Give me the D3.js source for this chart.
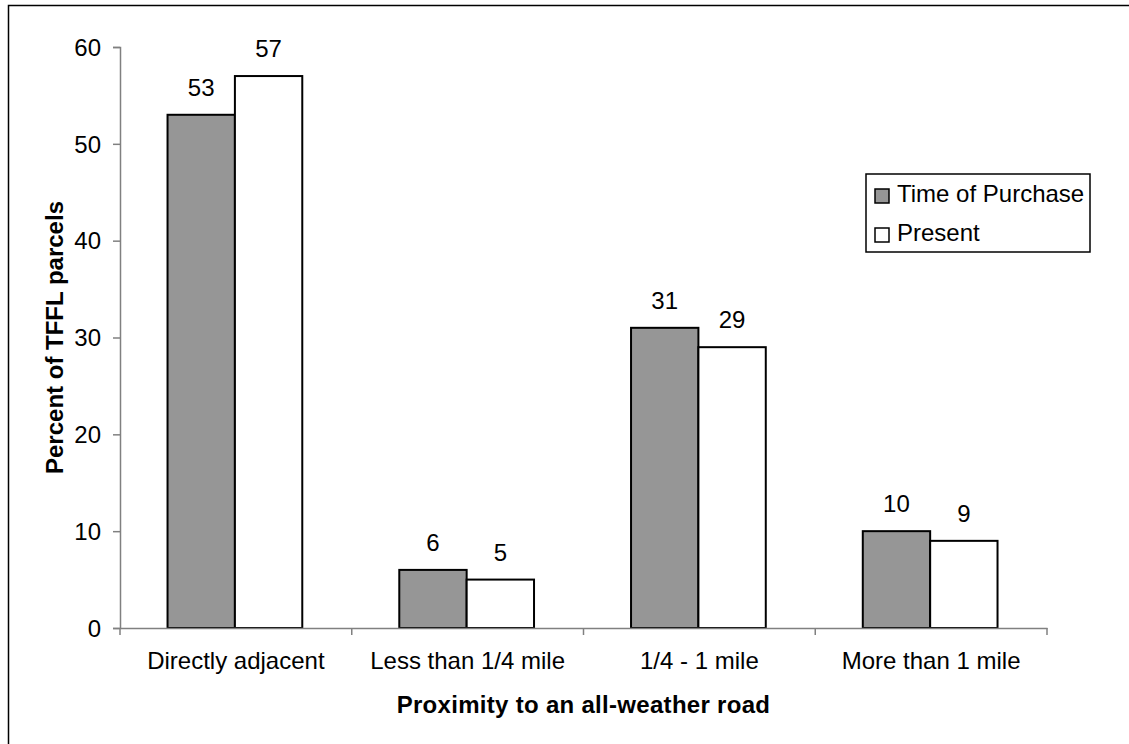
<!DOCTYPE html>
<html>
<head>
<meta charset="utf-8">
<script src="https://cdn.jsdelivr.net/npm/d3@7"></script>
<style>
body { margin: 0; background: #fff; }
text { font-family: "Liberation Sans", Arial, sans-serif; fill: #000; }
</style>
</head>
<body>
<script>
var width = 1129;
var height = 744;
var margin = {top: 47, right: 82, bottom: 116, left: 120};
var w = width - margin.left - margin.right;
var h = height - margin.top - margin.bottom;

// data
var categories = ["Directly adjacent", "Less than 1/4 mile", "1/4 - 1 mile", "More than 1 mile"];
var seriesNames = ["Time of Purchase", "Present"];
var purchase = [53, 6, 31, 10];
var present = [57, 5, 29, 9];
var yTicks = [0, 10, 20, 30, 40, 50, 60];
var colors = ["#969696", "#ffffff"];

var series = [purchase, present];

var svg = d3.select("body").append("svg")
	.attr("width", width)
	.attr("height", height);

// outer frame (only top and left edges fall inside the picture)
svg.append("rect")
	.attr("x", 8.5).attr("y", 5.5)
	.attr("width", 1200).attr("height", 800)
	.style("fill", "none")
	.style("stroke", "#000")
	.style("stroke-width", 1.5);

var chart = svg.append("g")
	.attr("transform", "translate(" + margin.left + "," + margin.top + ")");

var x0 = d3.scaleBand()
	.domain(categories)
	.range([0, w]);

var x1 = d3.scaleBand()
	.domain(seriesNames)
	.range([0, x0.bandwidth()])
	.paddingOuter(0.72)
	.align(0.49);

var y = d3.scaleLinear()
	.domain([0, 60])
	.range([h, 0]);

//bars
var groups = chart.selectAll(".grp")
	.data(categories)
	.enter().append("g")
	.attr("class", "grp")
	.attr("transform", function(d) { return "translate(" + x0(d) + ",0)"; });

groups.selectAll("rect")
	.data(function(d, i) { return seriesNames.map(function(s, j) { return {s: s, v: series[j][i], j: j}; }); })
	.enter().append("rect")
	.attr("x", function(d) { return x1(d.s); })
	.attr("y", function(d) { return y(d.v); })
	.attr("width", x1.bandwidth())
	.attr("height", function(d) { return h - y(d.v); })
	.style("fill", function(d) { return colors[d.j]; })
	.style("stroke", "#000")
	.style("stroke-width", 2);

groups.selectAll(".lbl")
	.data(function(d, i) { return seriesNames.map(function(s, j) { return {s: s, v: series[j][i]}; }); })
	.enter().append("text")
	.attr("class", "lbl")
	.attr("x", function(d) { return x1(d.s) + x1.bandwidth() / 2; })
	.attr("y", function(d) { return y(d.v) - 19; })
	.style("text-anchor", "middle")
	.style("font-size", "24px")
	.text(function(d) { return d.v; });

// y axis
var yAxis = d3.axisLeft(y)
	.tickValues(yTicks)
	.tickSize(7)
	.tickPadding(12);

var gy = chart.append("g").call(yAxis);
gy.selectAll("text").style("font-size", "24px").attr("dy", "0.34em");

// x axis
var xAxis = d3.axisBottom(x0)
	.tickSize(0)
	.tickPadding(24);

var gx = chart.append("g")
	.attr("transform", "translate(0," + h + ")")
	.call(xAxis);
gx.selectAll("text").style("font-size", "24px").attr("dy", "0.71em");

// boundary ticks between categories
var bounds = categories.map(function(d) { return x0(d); }).concat([w]);
gx.selectAll(".btick")
	.data(bounds)
	.enter().append("line")
	.attr("class", "btick")
	.attr("x1", function(d) { return d; })
	.attr("x2", function(d) { return d; })
	.attr("y1", 0)
	.attr("y2", 7);

chart.selectAll(".domain, .tick line, .btick")
	.style("stroke", "#808080")
	.style("stroke-width", 1.5);

// axis titles
svg.append("text")
	.attr("x", margin.left + w / 2)
	.attr("y", 713)
	.style("text-anchor", "middle")
	.style("font-size", "24px")
	.style("font-weight", "bold")
	.style("letter-spacing", "0.3px")
	.text("Proximity to an all-weather road");

svg.append("text")
	.attr("transform", "translate(63," + (margin.top + h / 2) + ") rotate(-90)")
	.style("text-anchor", "middle")
	.style("font-size", "24px")
	.style("font-weight", "bold")
	.text("Percent of TFFL parcels");

// legend
var legend = svg.append("g").attr("transform", "translate(866,174)");
legend.append("rect")
	.attr("width", 224).attr("height", 78)
	.style("fill", "#fff")
	.style("stroke", "#000")
	.style("stroke-width", 1.5);

var items = legend.selectAll(".item")
	.data(seriesNames)
	.enter().append("g")
	.attr("class", "item")
	.attr("transform", function(d, i) { return "translate(9," + (15 + i * 39) + ")"; });

items.append("rect")
	.attr("width", 14).attr("height", 14)
	.style("fill", function(d, i) { return colors[i]; })
	.style("stroke", "#000")
	.style("stroke-width", 1.5);

items.append("text")
	.attr("x", 22)
	.attr("y", 13)
	.style("font-size", "24px")
	.text(function(d) { return d; });
</script>
</body>
</html>
